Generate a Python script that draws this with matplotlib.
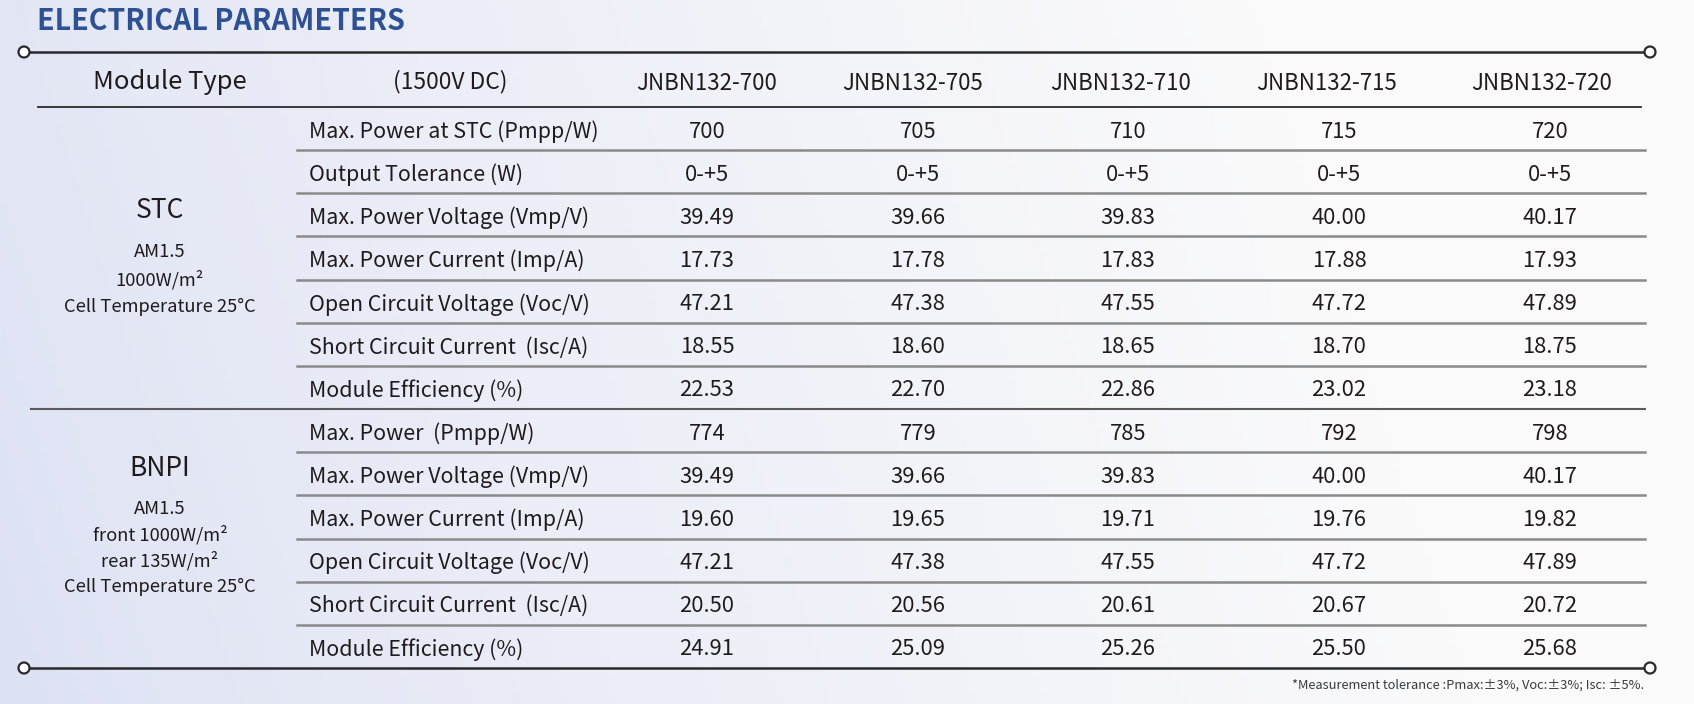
import numpy as np
import matplotlib
matplotlib.use("Agg")
import matplotlib.pyplot as plt
from matplotlib.patches import Circle

plt.rcParams['font.family'] = ['Noto Sans CJK SC', 'DejaVu Sans']

# table content
models = ["JNBN132-700", "JNBN132-705", "JNBN132-710", "JNBN132-715", "JNBN132-720"]

stc_labels = ["Max. Power at STC (Pmpp/W)", "Output Tolerance (W)", "Max. Power Voltage (Vmp/V)",
              "Max. Power Current (Imp/A)", "Open Circuit Voltage (Voc/V)",
              "Short Circuit Current  (Isc/A)", "Module Efficiency (%)"]
stc_pmax = [700, 705, 710, 715, 720]
stc_tol = ["0-+5", "0-+5", "0-+5", "0-+5", "0-+5"]
stc_vmp = [39.49, 39.66, 39.83, 40.00, 40.17]
stc_imp = [17.73, 17.78, 17.83, 17.88, 17.93]
stc_voc = [47.21, 47.38, 47.55, 47.72, 47.89]
stc_isc = [18.55, 18.60, 18.65, 18.70, 18.75]
stc_eff = [22.53, 22.70, 22.86, 23.02, 23.18]

bnpi_labels = ["Max. Power  (Pmpp/W)", "Max. Power Voltage (Vmp/V)", "Max. Power Current (Imp/A)",
               "Open Circuit Voltage (Voc/V)", "Short Circuit Current  (Isc/A)", "Module Efficiency (%)"]
bnpi_pmax = [774, 779, 785, 792, 798]
bnpi_vmp = [39.49, 39.66, 39.83, 40.00, 40.17]
bnpi_imp = [19.60, 19.65, 19.71, 19.76, 19.82]
bnpi_voc = [47.21, 47.38, 47.55, 47.72, 47.89]
bnpi_isc = [20.50, 20.56, 20.61, 20.67, 20.72]
bnpi_eff = [24.91, 25.09, 25.26, 25.50, 25.68]

stc_note = ["AM1.5", "1000W/m²", "Cell Temperature 25°C"]
bnpi_note = ["AM1.5", "front 1000W/m²", "rear 135W/m²", "Cell Temperature 25°C"]
footnote = "*Measurement tolerance :Pmax:±3%, Voc:±3%; Isc: ±5%."


def fmt(vals, dec):
    if isinstance(vals[0], str):
        return vals
    return [f"{v:.{dec}f}" for v in vals]


rows = [fmt(stc_pmax, 0), stc_tol, fmt(stc_vmp, 2), fmt(stc_imp, 2), fmt(stc_voc, 2),
        fmt(stc_isc, 2), fmt(stc_eff, 2),
        fmt(bnpi_pmax, 0), fmt(bnpi_vmp, 2), fmt(bnpi_imp, 2), fmt(bnpi_voc, 2),
        fmt(bnpi_isc, 2), fmt(bnpi_eff, 2)]
labels = stc_labels + bnpi_labels

W, H = 1694, 704
fig = plt.figure(figsize=(W / 100, H / 100), dpi=100)
ax = fig.add_axes([0, 0, 1, 1])
ax.set_xlim(0, W)
ax.set_ylim(H, 0)
ax.axis('off')

# soft lavender-to-white background
gx = np.linspace(0, 1, 300)
gy = np.linspace(0, 1, 120)
X, Y = np.meshgrid(gx, gy)
t = np.clip(X * 1.15 + (1 - Y) * 0.15, 0, 1) ** 0.8
left = np.array([220, 225, 243]) / 255
right = np.array([250, 250, 251]) / 255
bg = left[None, None, :] * (1 - t[..., None]) + right[None, None, :] * t[..., None]
ax.imshow(bg, extent=[0, W, H, 0], aspect='auto', zorder=0)

txt = '#1f1b1c'
dy = 3  # nudge text down a little inside each row
ax.text(37, 21, "ELECTRICAL PARAMETERS", fontsize=20.6, fontweight='bold',
        color='#2d5192', va='center', ha='left')

# frame lines
y_top, y_bot = 52, 668
for y in (y_top, y_bot):
    ax.plot([29, 1644], [y, y], color='#2a2a2a', lw=1.8, zorder=2)
    for cx in (24, 1650):
        ax.add_patch(Circle((cx, y), 5.5, facecolor='white', edgecolor='#2a2a2a', lw=1.6, zorder=3))

y_head = 107
row_h = (y_bot - y_head) / len(labels)
ax.plot([38, 1641], [y_head, y_head], color='#2a2a2a', lw=1.3, zorder=2)

# header
ax.text(93, 79 + dy, "Module Type", fontsize=18.4, color=txt, va='center', ha='left')
ax.text(393, 79 + dy, "(1500V DC)", fontsize=16.4, color=txt, va='center', ha='left')
head_x = [707, 913, 1121, 1327, 1542]
val_x = [707, 918, 1128, 1339, 1550]
for x, m in zip(head_x, models):
    ax.text(x, 80 + dy, m, fontsize=16, color=txt, va='center', ha='center')

# body rows
n_stc = len(stc_labels)
for i, (lab, vals) in enumerate(zip(labels, rows)):
    yc = y_head + (i + 0.5) * row_h + dy
    ax.text(309, yc, lab, fontsize=15.4, color=txt, va='center', ha='left')
    for x, v in zip(val_x, vals):
        ax.text(x, yc, v, fontsize=15.8, color=txt, va='center', ha='center')
    if i < len(labels) - 1:
        yl = y_head + (i + 1) * row_h
        if i == n_stc - 1:
            ax.plot([31, 1645], [yl, yl], color='#5a5a5a', lw=1.5, zorder=2)
        else:
            ax.plot([297, 1645], [yl, yl], color='#8a8a8a', lw=1.8, zorder=2)

# group captions
ax.text(160, 208 + dy, "STC", fontsize=19, color=txt, va='center', ha='center')
for k, s in enumerate(stc_note):
    ax.text(160, 252 + k * 27.5, s, fontsize=13.2, color=txt, va='center', ha='center')
ax.text(160, 466 + dy, "BNPI", fontsize=19, color=txt, va='center', ha='center')
for k, s in enumerate(bnpi_note):
    ax.text(160, 509 + k * 26, s, fontsize=13.2, color=txt, va='center', ha='center')

ax.text(1644, 685, footnote, fontsize=9.3, color='#3a3a3a', va='center', ha='right')

fig.savefig("out.png", dpi=100)
